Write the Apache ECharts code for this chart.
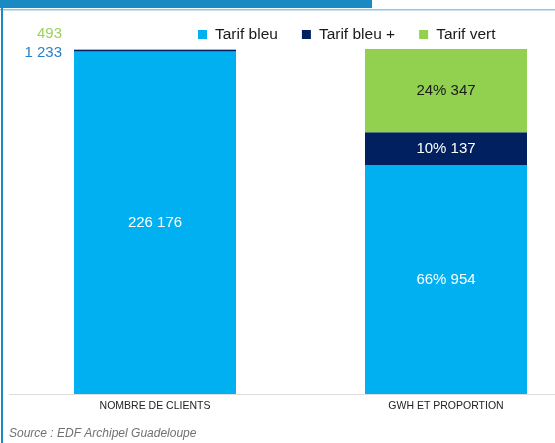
<!DOCTYPE html>
<html lang="fr">
<head>
    <meta charset="UTF-8">
    <title>Tarifs EDF Guadeloupe</title>
    <style>
        html, body {
            margin: 0;
            padding: 0;
            background: #fff;
        }

        #main {
            width: 555px;
            height: 443px;
        }
    </style>
</head>
<body>
<div id="main"></div>
<script src="https://cdn.jsdelivr.net/npm/echarts@6/dist/echarts.min.js"></script>
<script>
    const categories = ['NOMBRE DE CLIENTS', 'GWH ET PROPORTION']
    const tarifs = ['Tarif bleu', 'Tarif bleu +', 'Tarif vert']
    const clients = [226176, 1233, 493]
    const gwh = [954, 137, 347]
    const gwhPct = [66, 10, 24]
    const colors = ['#00b0f0', '#002060', '#92d050']

    const fmt = n => String(n).replace(/\B(?=(\d{3})+(?!\d))/g, ' ')
    const sum = arr => arr.reduce((a, b) => a + b, 0)
    const totalClients = sum(clients)
    const totalGwh = sum(gwh)

    // labels a gauche des petits segments (clients)
    const sideLabels = [
        null,
        {position: 'left', distance: 12, offset: [0, 2.5], color: '#2a7fc6'},
        {position: 'left', distance: 12, offset: [0, -15.5], color: '#9bd25a'}
    ]
    const rightLabelColors = ['#fff', '#fff', '#1a1a1a']

    let series = tarifs.map((name, i) => ({
        name: name,
        type: 'bar',
        stack: 'total',
        barWidth: 162,
        itemStyle: {color: colors[i]},
        data: [
            {
                value: clients[i] / totalClients * 100,
                label: Object.assign({
                    show: true,
                    position: 'inside',
                    color: '#fff',
                    fontSize: 15,
                    formatter: fmt(clients[i])
                }, sideLabels[i] || {})
            },
            {
                value: gwh[i] / totalGwh * 100,
                label: {
                    show: true,
                    position: 'inside',
                    color: rightLabelColors[i],
                    fontSize: 15,
                    formatter: gwhPct[i] + '% ' + fmt(gwh[i])
                }
            }
        ]
    }))

    let myChart = echarts.init(document.querySelector('#main'))
    let option = {
        backgroundColor: '#fff',
        textStyle: {fontFamily: 'Liberation Sans, Arial, sans-serif'},
        animation: false,
        legend: {
            data: tarifs,
            left: 198,
            top: 26,
            padding: 0,
            icon: 'rect',
            itemWidth: 9,
            itemHeight: 9,
            itemGap: 24,
            textStyle: {
                fontSize: 15.5,
                lineHeight: 17,
                color: '#1a1a1a',
                padding: [0, 0, 0, 3]
            }
        },
        grid: {
            left: 9.5,
            top: 49,
            width: 582,
            height: 345,
            outerBoundsMode: 'none'
        },
        xAxis: {
            type: 'category',
            data: categories,
            axisTick: {show: false},
            axisLine: {lineStyle: {color: '#dddddd', width: 1}},
            axisLabel: {
                fontSize: 10.5,
                color: '#222',
                margin: 7
            }
        },
        yAxis: {
            type: 'value',
            min: 0,
            max: 100,
            show: false
        },
        graphic: [
            {
                type: 'rect',
                shape: {x: 0, y: 0, width: 372, height: 8},
                style: {fill: '#1a8ac4'}
            },
            {
                type: 'rect',
                shape: {x: 0, y: 9, width: 555, height: 1.5},
                style: {fill: '#8fc5e6'}
            },
            {
                type: 'rect',
                shape: {x: 1, y: 0, width: 2, height: 443},
                style: {fill: '#1a8ac4'}
            },
            {
                type: 'text',
                left: 9,
                top: 428,
                style: {
                    text: 'Source : EDF Archipel Guadeloupe',
                    fontSize: 12,
                    fontStyle: 'italic',
                    fill: '#707070',
                    fontFamily: 'Liberation Sans, Arial, sans-serif'
                }
            }
        ],
        series: series
    }
    myChart.setOption(option)
</script>
</body>
</html>
